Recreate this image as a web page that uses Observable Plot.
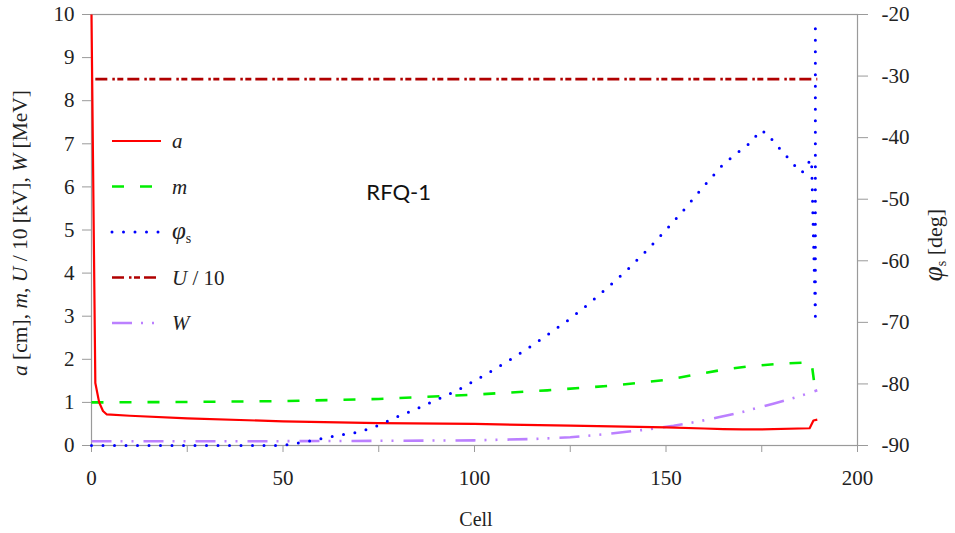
<!DOCTYPE html>
<html>
<head>
<meta charset="utf-8">
<script src="https://cdn.jsdelivr.net/npm/d3@7"></script>
<script src="https://cdn.jsdelivr.net/npm/@observablehq/plot@0.6"></script>
<style>
  html, body { margin: 0; padding: 0; background: #fff; }
  #chart { width: 955px; height: 533px; }
</style>
</head>
<body>
<div id="chart"></div>
<script>
// ---- data ----
const xTicks = [0, 25, 50, 75, 100, 125, 150, 175, 200];
const xLabelTicks = [0, 50, 100, 150, 200];
const yTicksLeft = [0, 1, 2, 3, 4, 5, 6, 7, 8, 9, 10];
const phiTicks = [-90, -80, -70, -60, -50, -40, -30, -20];

// a [cm]
const aData = [[0,10],[1,1.45],[2,1.0],[3,0.8],[4,0.72],[10,0.69],[25,0.63],[50,0.56],[75,0.52],[100,0.50],[125,0.46],[150,0.42],[160,0.395],[165,0.38],[170,0.372],[175,0.372],[187.5,0.40],[188.5,0.58],[189.5,0.60]];
// m
const mData = [[0,1.0],[25,1.01],[50,1.03],[75,1.08],[100,1.18],[119,1.28],[136,1.39],[150,1.52],[158,1.65],[165,1.76],[172,1.84],[180,1.90],[188,1.93],[189,1.25]];
// phi_s [deg] (right axis)
const phiData = [[0,-90],[50,-90],[55,-89.5],[60,-88.9],[65,-88.3],[70,-87.8],[75,-86.7],[80,-85.3],[85,-84.0],[90,-82.6],[95,-81.2],[100,-79.5],[105,-77.7],[110,-75.8],[115,-73.8],[120,-71.6],[125,-69.4],[130,-66.9],[135,-64.2],[140,-61.4],[145,-58.3],[150,-55.0],[155,-51.5],[160,-47.8],[165,-44.3],[170,-41.8],[172.5,-40.6],[174.5,-38.8],[176.5,-39.3],[178,-40.6],[180,-42.0],[182,-43.4],[184,-44.8],[185.5,-45.7],[187,-44.2],[188,-43.5],[189,-69],[189,-21]];
// U / 10 [kV]
const uData = [[1,8.5],[189.5,8.5]];
// W [MeV]
const wData = [[0,0.10],[50,0.10],[80,0.11],[100,0.12],[115,0.15],[125,0.19],[135,0.27],[145,0.37],[152,0.46],[158,0.55],[164,0.66],[170,0.78],[178,0.97],[184,1.12],[189.5,1.28]];

const annotation = [{cell: 80.2, value: 5.85, text: "RFQ-1"}];

// phi axis maps -90..-20 onto the left 0..10 scale
const phiToLeft = p => (p + 90) / 7;
const leftToPhi = v => Math.round(-90 + 7 * v);

const styles = {
  a:   {stroke: "#ff0000", strokeWidth: 2.2, strokeDasharray: null},
  m:   {stroke: "#00ee00", strokeWidth: 2.6, strokeDasharray: "12,16"},
  phi: {stroke: "#0000ff", strokeWidth: 3, strokeDasharray: "0,11.5", strokeLinecap: "round"},
  u:   {stroke: "#b00000", strokeWidth: 2.6, strokeDasharray: "12,5,2.5,2.5,6,4"},
  w:   {stroke: "#bb80ff", strokeWidth: 2.6, strokeDasharray: "20,9,2,9,2,10"}
};

const lineOf = (data, s, yf = d => d[1]) => Plot.line(data, {
  x: d => d[0], y: yf, stroke: s.stroke, strokeWidth: s.strokeWidth,
  strokeDasharray: s.strokeDasharray || undefined, strokeLinecap: s.strokeLinecap || "butt",
  strokeLinejoin: "round"
});

const W = 955, H = 533;
const serif = "'Liberation Serif', 'Times New Roman', serif";
const plot = Plot.plot({
  width: W, height: H,
  marginLeft: 91, marginRight: 98, marginTop: 14, marginBottom: 88,
  style: {fontFamily: serif, fontSize: "21px", color: "#222", background: "#fff"},
  x: {domain: [0, 200]},
  y: {domain: [0, 10]},
  marks: [
    Plot.frame({stroke: "#9a9a9a", strokeWidth: 1.2}),
    Plot.axisX({ticks: xTicks, tickSize: 7, tickPadding: 18, stroke: "#9a9a9a",
      tickFormat: d => xLabelTicks.includes(d) ? String(d) : "", label: null}),
    Plot.axisY({anchor: "left", ticks: yTicksLeft, tickSize: 9, tickPadding: 8, stroke: "#9a9a9a",
      tickFormat: d => String(d), label: null}),
    Plot.axisY({anchor: "right", ticks: phiTicks.map(phiToLeft), tickSize: 10, tickPadding: 14, stroke: "#9a9a9a",
      tickFormat: v => String(leftToPhi(v)), label: null}),
    lineOf(uData, styles.u),
    lineOf(wData, styles.w),
    lineOf(mData, styles.m),
    lineOf(aData, styles.a),
    lineOf(phiData, styles.phi, d => phiToLeft(d[1])),
    Plot.text(annotation, {x: "cell", y: "value", text: "text", fontSize: 22,
      fontFamily: "Lato, 'Open Sans', sans-serif", fill: "#111"})
  ]
});
document.getElementById("chart").appendChild(plot);

// ---- titles and legend ----
const svg = d3.select(plot);

function richText(g, parts) {
  parts.forEach(p => {
    const t = g.append("tspan").text(p.t);
    if (p.i) t.attr("font-style", "italic");
    if (p.big) t.attr("font-size", p.big + "px");
    if (p.sub) t.attr("font-size", "14px").attr("baseline-shift", "-25%");
  });
}

const leftTitle = svg.append("text")
  .attr("transform", "translate(27,233) rotate(-90)")
  .attr("text-anchor", "middle").attr("font-family", serif).attr("font-size", 21.5).attr("fill", "#222");
richText(leftTitle, [{t: "a", i: true}, {t: " [cm], "}, {t: "m", i: true}, {t: ", "}, {t: "U", i: true},
  {t: " / 10 [kV], "}, {t: "W", i: true}, {t: " [MeV]"}]);

const rightTitle = svg.append("text")
  .attr("transform", "translate(942,245) rotate(-90)")
  .attr("text-anchor", "middle").attr("font-family", serif).attr("font-size", 22).attr("fill", "#222");
richText(rightTitle, [{t: "φ", i: true, big: 27}, {t: "s", sub: true}, {t: " [deg]"}]);

svg.append("text").attr("x", 476).attr("y", 519).attr("dy", "0.35em")
  .attr("text-anchor", "middle").attr("font-family", serif).attr("font-size", 20).attr("fill", "#222")
  .text("Cell");

const legendItems = [
  {s: styles.a, parts: [{t: "a", i: true}]},
  {s: styles.m, parts: [{t: "m", i: true}]},
  {s: styles.phi, parts: [{t: "φ", i: true, big: 25}, {t: "s", sub: true}]},
  {s: styles.u, parts: [{t: "U", i: true}, {t: " / 10"}]},
  {s: styles.w, parts: [{t: "W", i: true}]}
];
const lg = svg.append("g");
legendItems.forEach((item, k) => {
  const y = 141 + k * 45.5;
  lg.append("line").attr("x1", 112).attr("x2", 161).attr("y1", y).attr("y2", y)
    .attr("stroke", item.s.stroke).attr("stroke-width", item.s.strokeWidth)
    .attr("stroke-dasharray", item.s.strokeDasharray)
    .attr("stroke-linecap", item.s.strokeLinecap || "butt");
  const t = lg.append("text").attr("x", 172).attr("y", y).attr("dy", "0.35em")
    .attr("text-anchor", "start")
    .attr("font-family", serif).attr("font-size", 21).attr("fill", "#222");
  richText(t, item.parts);
});
</script>
</body>
</html>
